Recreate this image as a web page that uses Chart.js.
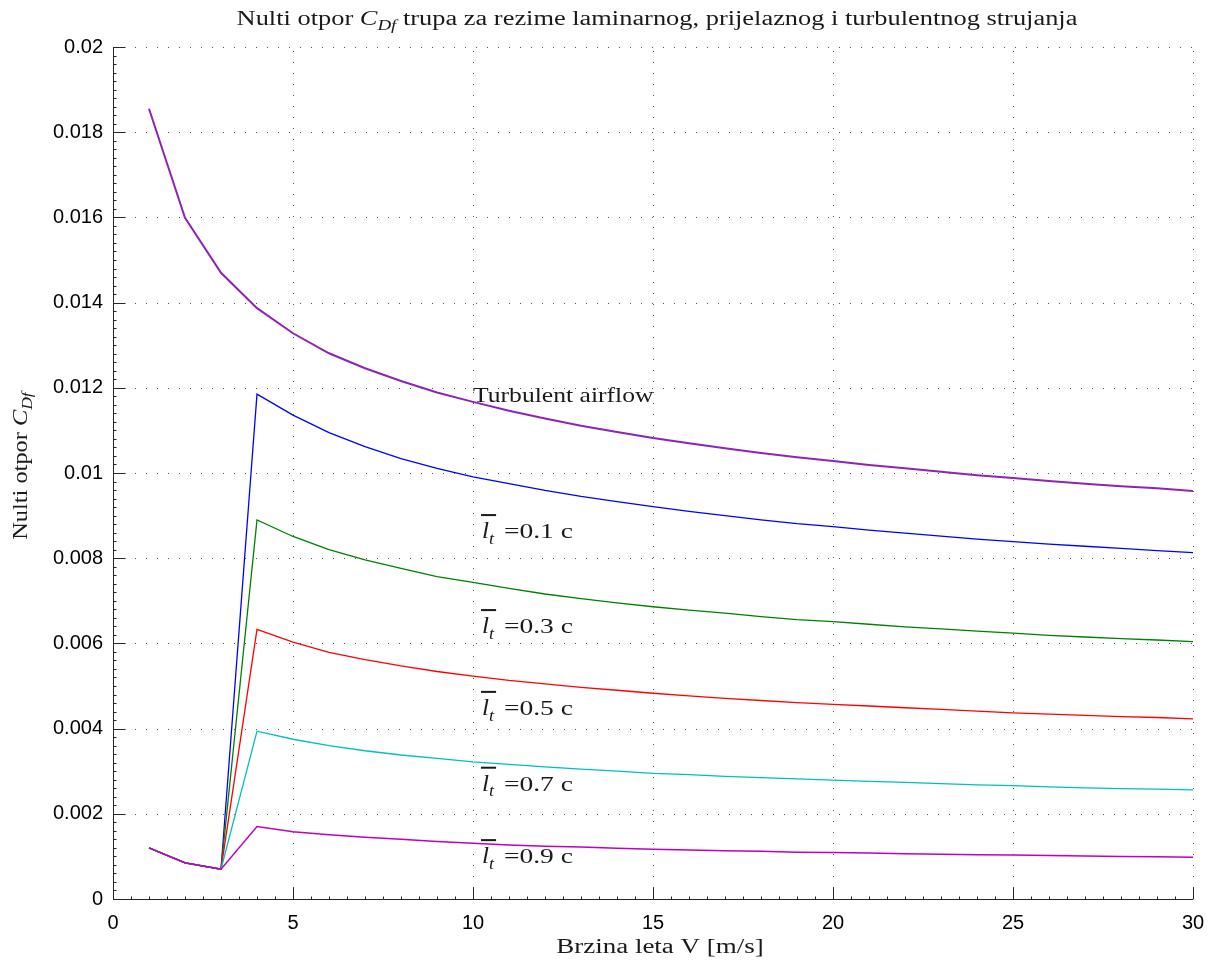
<!DOCTYPE html>
<html>
<head>
<meta charset="utf-8">
<script src="https://cdn.jsdelivr.net/npm/chart.js@4.4.1/dist/chart.umd.min.js"></script>
<style>
  html, body { margin: 0; padding: 0; background: #fff; }
  #wrap { width: 1215px; height: 964px; }
</style>
</head>
<body>
<div id="wrap"><canvas id="grafik"></canvas></div>
<script>
// brzina leta V [m/s]
var brzine = [1, 2, 3, 4, 5, 6, 7, 8, 9, 10, 11, 12, 13, 14, 15, 16, 17, 18, 19, 20, 21, 22, 23, 24, 25, 26, 27, 28, 29, 30];

// turbulentno strujanje
var turbulentno = [0.01855, 0.01599, 0.01470, 0.01387, 0.01328, 0.01281, 0.01246, 0.01216, 0.01189, 0.01167,
    0.01146, 0.01128, 0.01111, 0.01096, 0.01082, 0.01070, 0.01058, 0.01047, 0.01037, 0.01028,
    0.01019, 0.01011, 0.01003, 0.00995, 0.00988, 0.00981, 0.00975, 0.00969, 0.00964, 0.00958];

// prijelazno strujanje, lt = 0.1 ... 0.9 c (prve tri tocke su laminarne)
var lt01 = [0.00120, 0.00085, 0.00070, 0.01185, 0.01136, 0.01095, 0.01062, 0.01034, 0.01011, 0.00991,
    0.00975, 0.00959, 0.00945, 0.00933, 0.00921, 0.00910, 0.00900, 0.00890, 0.00881, 0.00874,
    0.00866, 0.00859, 0.00852, 0.00845, 0.00839, 0.00833, 0.00828, 0.00823, 0.00818, 0.00813];
var lt03 = [0.00120, 0.00085, 0.00070, 0.00890, 0.00851, 0.00820, 0.00796, 0.00776, 0.00757, 0.00743,
    0.00729, 0.00716, 0.00705, 0.00695, 0.00686, 0.00678, 0.00671, 0.00663, 0.00656, 0.00651,
    0.00645, 0.00639, 0.00634, 0.00629, 0.00624, 0.00619, 0.00615, 0.00611, 0.00608, 0.00604];
var lt05 = [0.00120, 0.00085, 0.00070, 0.00633, 0.00603, 0.00579, 0.00562, 0.00547, 0.00534, 0.00523,
    0.00513, 0.00505, 0.00497, 0.00490, 0.00483, 0.00477, 0.00471, 0.00466, 0.00461, 0.00457,
    0.00453, 0.00449, 0.00445, 0.00441, 0.00437, 0.00434, 0.00431, 0.00428, 0.00426, 0.00423];
var lt07 = [0.00120, 0.00085, 0.00070, 0.00394, 0.00375, 0.00360, 0.00348, 0.00338, 0.00330, 0.00322,
    0.00316, 0.00310, 0.00305, 0.00300, 0.00295, 0.00292, 0.00288, 0.00285, 0.00282, 0.00279,
    0.00276, 0.00274, 0.00271, 0.00268, 0.00266, 0.00263, 0.00261, 0.00259, 0.00258, 0.00256];
var lt09 = [0.00120, 0.00085, 0.00070, 0.00170, 0.00158, 0.00151, 0.00145, 0.00140, 0.00135, 0.00131,
    0.00127, 0.00124, 0.00122, 0.00119, 0.00117, 0.00115, 0.00113, 0.00112, 0.00110, 0.00109,
    0.00108, 0.00106, 0.00105, 0.00104, 0.00103, 0.00102, 0.00101, 0.00100, 0.00099, 0.00098];

// natpisi na grafu
var natpisiLt = ["0.1", "0.3", "0.5", "0.7", "0.9"];
var natpisiY = [0.00866, 0.00643, 0.00451, 0.00273, 0.00103];
var natpisX = 10;
var turbNatpisY = 0.01183;

function tocke(vrijednosti) {
    return brzine.map(function (v, i) { return { x: v, y: vrijednosti[i] }; });
}

var serif = "'Liberation Serif', 'DejaVu Serif', serif";

// crta tekst sastavljen od dijelova (kurziv, indeks), razvucen jer je CM siri od Times-a
function dijelovi(ctx, parts, x, y, align, size, sx) {
    function font(p) {
        var s = p.sub ? size * 0.72 : size;
        return (p.italic ? "italic " : "") + s + "px " + serif;
    }
    var total = 0;
    parts.forEach(function (p) { ctx.font = font(p); total += ctx.measureText(p.t).width; });
    ctx.save();
    ctx.translate(align === "center" ? x - total * sx / 2 : x, y);
    ctx.scale(sx, 1);
    ctx.textAlign = "left";
    ctx.textBaseline = "alphabetic";
    var cx = 0;
    parts.forEach(function (p) {
        ctx.font = font(p);
        ctx.fillText(p.t, cx, p.sub ? size * 0.25 : 0);
        cx += ctx.measureText(p.t).width;
    });
    ctx.restore();
    return total * sx;
}

var matlabOsi = {
    id: "matlabOsi",
    beforeDatasetsDraw: function (chart) {
        var ctx = chart.ctx, a = chart.chartArea;
        var xs = chart.scales.x, ys = chart.scales.y;
        ctx.save();
        ctx.strokeStyle = "#555";
        ctx.lineWidth = 1;
        ctx.setLineDash([1, 10]);
        for (var v = 5; v <= 30; v += 5) {
            var px = Math.round(xs.getPixelForValue(v)) + 0.5;
            ctx.beginPath(); ctx.moveTo(px, a.bottom); ctx.lineTo(px, a.top); ctx.stroke();
        }
        for (var k = 1; k <= 10; k++) {
            var py = Math.round(ys.getPixelForValue(k * 0.002)) + 0.5;
            ctx.beginPath(); ctx.moveTo(a.left, py); ctx.lineTo(a.right, py); ctx.stroke();
        }
        ctx.restore();
    },
    afterDatasetsDraw: function (chart) {
        var ctx = chart.ctx, a = chart.chartArea;
        var xs = chart.scales.x, ys = chart.scales.y;
        var L = Math.round(a.left) + 0.5, B = Math.round(a.bottom) + 0.5;
        ctx.save();
        ctx.strokeStyle = "#262626";
        ctx.lineWidth = 1;
        ctx.beginPath();
        ctx.moveTo(L, a.top); ctx.lineTo(L, B); ctx.lineTo(a.right, B);
        ctx.stroke();
        ctx.beginPath();
        for (var v = 0; v <= 30; v += 0.5) {
            var px = Math.round(xs.getPixelForValue(v)) + 0.5;
            var len = (v % 5 === 0) ? 12 : 3;
            ctx.moveTo(px, B); ctx.lineTo(px, B - len);
        }
        for (var k = 0; k <= 100; k++) {
            var py = Math.round(ys.getPixelForValue(k * 0.0002)) + 0.5;
            var l2 = (k % 10 === 0) ? 12 : 3;
            ctx.moveTo(L, py); ctx.lineTo(L + l2, py);
        }
        ctx.stroke();
        ctx.restore();
    },
    afterDraw: function (chart) {
        var ctx = chart.ctx, a = chart.chartArea;
        var xs = chart.scales.x, ys = chart.scales.y;
        var cx = (a.left + a.right) / 2;
        ctx.save();
        ctx.fillStyle = "#1a1a1a";
        // naslov
        dijelovi(ctx, [
            { t: "Nulti otpor " },
            { t: "C", italic: true },
            { t: "Df", italic: true, sub: true },
            { t: " trupa za rezime laminarnog, prijelaznog i turbulentnog strujanja" }
        ], cx + 4, 25, "center", 20, 1.32);
        // os x
        dijelovi(ctx, [{ t: "Brzina leta V [m/s]" }], cx + 7, 953, "center", 20, 1.35);
        // os y
        ctx.save();
        ctx.translate(27, 466);
        ctx.rotate(-Math.PI / 2);
        dijelovi(ctx, [
            { t: "Nulti otpor " },
            { t: "C", italic: true },
            { t: "Df", italic: true, sub: true }
        ], 0, 0, "center", 21, 1.16);
        ctx.restore();
        // natpisi
        var x0 = xs.getPixelForValue(natpisX);
        dijelovi(ctx, [{ t: "Turbulent airflow" }], x0, ys.getPixelForValue(turbNatpisY) + 7, "left", 21, 1.22);
        natpisiLt.forEach(function (n, i) {
            var y = ys.getPixelForValue(natpisiY[i]) + 8;
            var w = dijelovi(ctx, [{ t: "l", italic: true }, { t: "t", italic: true, sub: true }], x0 + 9, y, "left", 23, 1.1);
            ctx.fillRect(x0 + 8, y - 24, w + 3, 2);
            dijelovi(ctx, [{ t: " =0." + n.slice(2) + " c" }], x0 + 12 + w, y, "left", 22, 1.25);
        });
        ctx.restore();
    }
};

var ctx = document.getElementById("grafik");

var grafik = new Chart(ctx, {
    type: "line",
    data: {
        datasets: [
            { label: "lt = 0.1 c", data: tocke(lt01), borderColor: "#0000ff", borderWidth: 1.3, order: 5 },
            { label: "lt = 0.3 c", data: tocke(lt03), borderColor: "#008000", borderWidth: 1.3, order: 4 },
            { label: "lt = 0.5 c", data: tocke(lt05), borderColor: "#ff0000", borderWidth: 1.3, order: 3 },
            { label: "lt = 0.7 c", data: tocke(lt07), borderColor: "#00bfbf", borderWidth: 1.3, order: 2 },
            { label: "lt = 0.9 c", data: tocke(lt09), borderColor: "#bf00bf", borderWidth: 1.5, order: 1 },
            { label: "Turbulent airflow", data: tocke(turbulentno), borderColor: "#8e24b4", borderWidth: 2, order: 0 }
        ]
    },
    options: {
        responsive: true,
        maintainAspectRatio: false,
        animation: false,
        layout: { padding: { top: 47, right: 22, left: 0, bottom: 0 } },
        elements: {
            point: { radius: 0 },
            line: { tension: 0, fill: false, backgroundColor: "transparent" }
        },
        plugins: {
            legend: { display: false },
            title: { display: false },
            tooltip: { enabled: false }
        },
        scales: {
            x: {
                type: "linear",
                min: 0,
                max: 30,
                grid: { display: false },
                border: { display: false },
                ticks: {
                    stepSize: 5,
                    padding: 4,
                    color: "#000",
                    font: { family: "'Liberation Sans', Arial, sans-serif", size: 20 }
                },
                afterFit: function (s) { s.height = 65; }
            },
            y: {
                type: "linear",
                min: 0,
                max: 0.02,
                grid: { display: false },
                border: { display: false },
                ticks: {
                    stepSize: 0.002,
                    padding: 2,
                    color: "#000",
                    font: { family: "'Liberation Sans', Arial, sans-serif", size: 20 },
                    callback: function (v) { return v === 0 ? "0" : String(+v.toFixed(3)); }
                },
                afterFit: function (s) { s.width = 113; }
            }
        }
    },
    plugins: [matlabOsi]
});
</script>
</body>
</html>
